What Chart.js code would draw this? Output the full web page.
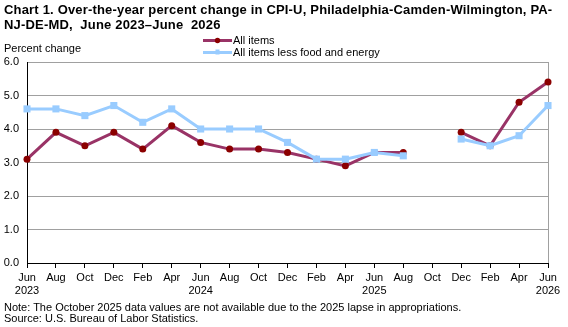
<!DOCTYPE html>
<html lang="en">
<head>
  <meta charset="UTF-8">
  <title>CPI-U Philadelphia-Camden-Wilmington</title>
  <script src="https://cdn.jsdelivr.net/npm/chart.js"></script>
  <style>
    * {
      margin: 0;
      padding: 0;
      box-sizing: border-box;
    }

    body {
      width: 568px;
      height: 327px;
      background: #fff;
      color: #000;
      font-family: 'Liberation Sans', Arial, sans-serif;
      position: relative;
      overflow: hidden;
    }

    #wrap {
      position: absolute;
      left: 0;
      top: 0;
      width: 568px;
      height: 327px;
    }

    .txt {
      position: absolute;
      white-space: nowrap;
    }

    #title {
      left: 4px;
      top: 2px;
      font-size: 13px;
      font-weight: bold;
      line-height: 15px;
      letter-spacing: 0.18px;
    }

    #ylabel {
      left: 4px;
      top: 42px;
      font-size: 11px;
    }

    #note {
      left: 4px;
      top: 302px;
      font-size: 11px;
      line-height: 11px;
    }
  </style>
</head>
<body>
  <div id="wrap"><canvas id="chart" width="568" height="327"></canvas></div>
  <div class="txt" id="title">Chart 1. Over-the-year percent change in CPI-U, Philadelphia-Camden-Wilmington, PA-<br>NJ-DE-MD,&nbsp; June 2023–June&nbsp; 2026</div>
  <div class="txt" id="ylabel">Percent change</div>
  <div class="txt" id="note">Note: The October 2025 data values are not available due to the 2025 lapse in appropriations.<br>Source: U.S. Bureau of Labor Statistics.</div>

  <script>
    // bimonthly, June 2023 - June 2026 (Oct 2025 missing)
    const months = [
      ['Jun', '2023'], 'Aug', 'Oct', 'Dec', 'Feb', 'Apr',
      ['Jun', '2024'], 'Aug', 'Oct', 'Dec', 'Feb', 'Apr',
      ['Jun', '2025'], 'Aug', 'Oct', 'Dec', 'Feb', 'Apr',
      ['Jun', '2026']
    ];

    const allItems = [3.1, 3.9, 3.5, 3.9, 3.4, 4.1, 3.6, 3.4, 3.4, 3.3, 3.1, 2.9, 3.3, 3.3, null, 3.9, 3.5, 4.8, 5.4];
    const lessFoodEnergy = [4.6, 4.6, 4.4, 4.7, 4.2, 4.6, 4.0, 4.0, 4.0, 3.6, 3.1, 3.1, 3.3, 3.2, null, 3.7, 3.5, 3.8, 4.7];

    const yTicks = [0, 1, 2, 3, 4, 5, 6];

    const legendItems = [
      { text: 'All items', line: '#993366', marker: '#8b0000', shape: 'circle' },
      { text: 'All items less food and energy', line: '#99ccff', marker: '#99ccff', shape: 'rect' }
    ];

    // legend + right border of the plot area
    const extras = {
      id: 'extras',
      beforeDatasetsDraw(chart) {
        const ctx = chart.ctx;
        const a = chart.chartArea;
        ctx.save();
        ctx.strokeStyle = '#a0a0a0';
        ctx.lineWidth = 1;
        ctx.beginPath();
        ctx.moveTo(Math.round(a.right) + 0.5, a.top);
        ctx.lineTo(Math.round(a.right) + 0.5, a.bottom);
        ctx.stroke();
        ctx.restore();
      },
      afterDraw(chart) {
        const ctx = chart.ctx;
        ctx.save();
        ctx.font = '11px "Liberation Sans", Arial, sans-serif';
        ctx.textBaseline = 'middle';
        legendItems.forEach((it, i) => {
          const y = 40.5 + i * 12;
          ctx.strokeStyle = it.line;
          ctx.lineWidth = 3;
          ctx.beginPath();
          ctx.moveTo(203, y);
          ctx.lineTo(232, y);
          ctx.stroke();
          ctx.fillStyle = it.marker;
          if (it.shape === 'circle') {
            ctx.beginPath();
            ctx.arc(217.5, y, 2.7, 0, Math.PI * 2);
            ctx.fill();
          } else {
            ctx.fillRect(215.5, y - 3, 4, 5);
          }
          ctx.fillStyle = '#000';
          ctx.fillText(it.text, 233, y + 0.5);
        });
        ctx.restore();
      }
    };

    new Chart(document.getElementById('chart').getContext('2d'), {
      type: 'line',
      data: {
        labels: months,
        datasets: [
          {
            label: legendItems[0].text,
            data: allItems,
            borderColor: legendItems[0].line,
            borderWidth: 3,
            pointStyle: 'circle',
            pointRadius: 3.5,
            pointBackgroundColor: legendItems[0].marker,
            pointBorderColor: legendItems[0].marker,
            pointBorderWidth: 0,
            spanGaps: false,
            tension: 0,
            order: 2
          },
          {
            label: legendItems[1].text,
            data: lessFoodEnergy,
            borderColor: legendItems[1].line,
            borderWidth: 3,
            pointStyle: 'rect',
            pointRadius: 5,
            pointBackgroundColor: legendItems[1].marker,
            pointBorderColor: legendItems[1].marker,
            pointBorderWidth: 0,
            spanGaps: false,
            tension: 0,
            order: 1
          }
        ]
      },
      options: {
        responsive: false,
        animation: false,
        layout: {
          padding: { left: 0, top: 62, right: 20, bottom: 26 }
        },
        plugins: {
          legend: { display: false },
          title: { display: false },
          tooltip: { enabled: false }
        },
        scales: {
          x: {
            offset: false,
            afterFit: (s) => { s.height = 38; },
            border: { color: '#000', width: 1 },
            grid: {
              drawOnChartArea: false,
              drawTicks: true,
              tickLength: 5,
              color: '#000'
            },
            ticks: {
              autoSkip: false,
              maxRotation: 0,
              padding: 4,
              color: '#000',
              font: { family: '"Liberation Sans", Arial, sans-serif', size: 11, lineHeight: 1.15 }
            }
          },
          y: {
            min: yTicks[0],
            max: yTicks[yTicks.length - 1],
            afterFit: (s) => { s.width = 27; },
            afterBuildTicks: (s) => { s.ticks = yTicks.map(v => ({ value: v })); },
            border: { color: '#000', width: 1 },
            grid: {
              drawTicks: false,
              color: '#a0a0a0'
            },
            ticks: {
              padding: 8,
              color: '#000',
              font: { family: '"Liberation Sans", Arial, sans-serif', size: 11 },
              callback: (v) => Number(v).toFixed(1)
            }
          }
        }
      },
      plugins: [extras]
    });
  </script>
</body>
</html>
